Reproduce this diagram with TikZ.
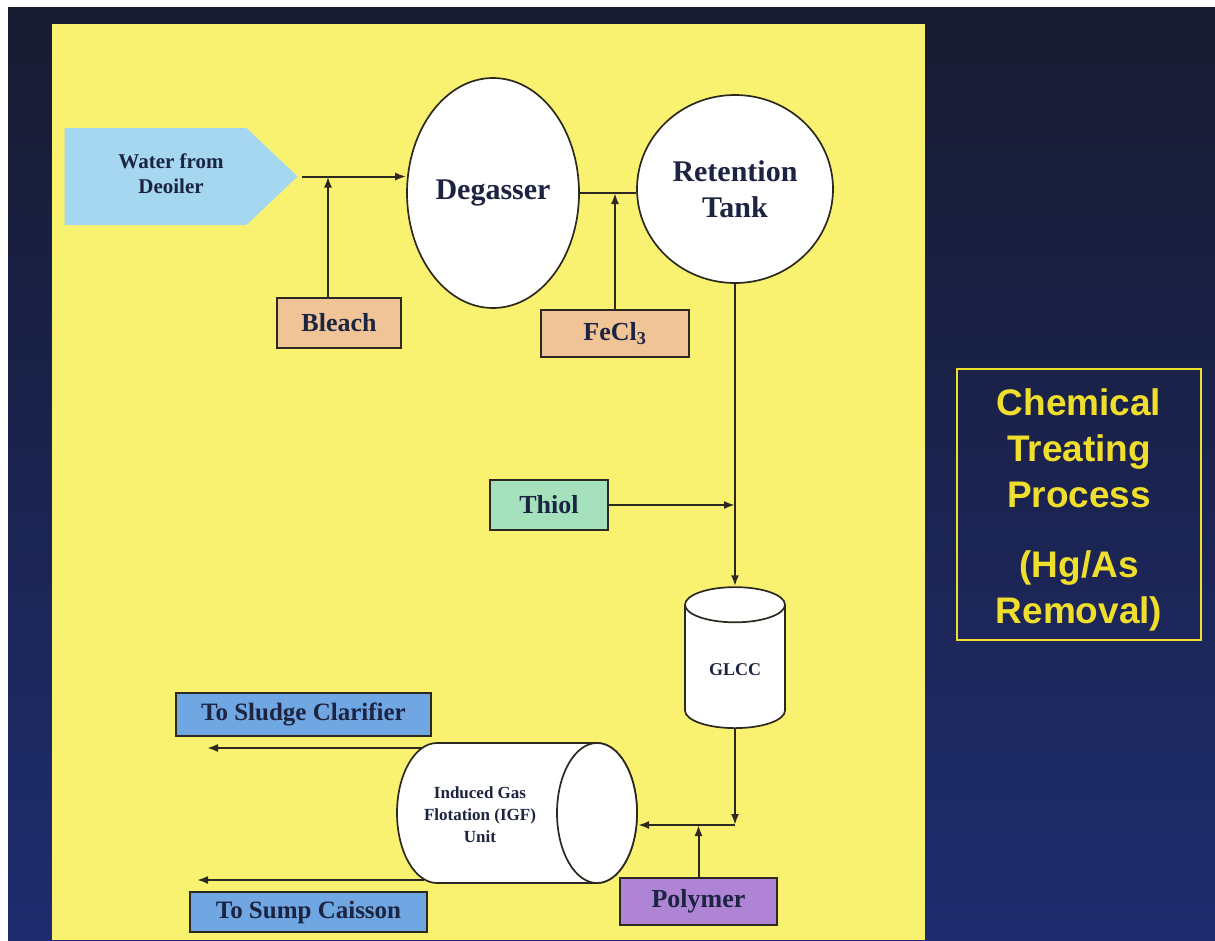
\documentclass[tikz,border=0pt]{standalone}
\usepackage{fontspec}
\setmainfont{Liberation Serif}
\setsansfont{Liberation Sans}
\usetikzlibrary{shapes.geometric,shapes.symbols,arrows.meta}

\definecolor{navytop}{RGB}{24,27,48}
\definecolor{navybot}{RGB}{30,44,110}
\definecolor{paper}{RGB}{249,242,112}
\definecolor{ink}{RGB}{28,36,66}
\definecolor{edge}{RGB}{45,40,32}
\definecolor{water}{RGB}{165,215,240}
\definecolor{peach}{RGB}{240,196,150}
\definecolor{mint}{RGB}{165,225,188}
\definecolor{sky}{RGB}{112,166,225}
\definecolor{lilac}{RGB}{176,132,212}
\definecolor{title}{RGB}{240,222,45}

\begin{document}
\begin{tikzpicture}[x=1pt, y=-1pt,
    lab/.style={text=ink, align=center},
    chem/.style={draw=edge, line width=1.8pt, lab, inner sep=0pt,
        font=\fontsize{26}{30}\selectfont\bfseries},
    vessel/.style={draw=edge, line width=1.7pt, fill=white, lab},
    flow/.style={draw=edge, line width=2pt, -{Latex[length=11pt,width=8pt]}},
    pipe/.style={draw=edge, line width=2pt}]
    \useasboundingbox (0,0) rectangle (1215,940);

    % slide background
    \fill[white] (0,0) rectangle (1215,940);
    \shade[top color=navytop, bottom color=navybot] (8,7) rectangle (1215,940);
    \fill[paper] (52,24) rectangle (925,940);

    \node[signal, signal to=east, signal pointer angle=87, fill=water,
        minimum width=233pt, minimum height=97pt, inner sep=0pt] (water) at (155.5,176.5) {};
    \node[lab, font=\fontsize{21}{25}\selectfont\bfseries] (watertext) at (171,174) {Water from\\Deoiler};

    \node[ellipse, vessel, minimum width=167pt, minimum height=230pt,
        font=\fontsize{30}{34}\selectfont\bfseries] (degasser) at (493,193) {Degasser};
    \node[ellipse, vessel, minimum width=196pt, minimum height=188pt,
        font=\fontsize{30}{36}\selectfont\bfseries] (retention) at (735,189) {Retention\\Tank};

    \node[chem, fill=peach, minimum width=124pt, minimum height=50pt] (bleach) at (339,323) {Bleach};
    \node[chem, fill=peach, minimum width=148pt, minimum height=47pt] (fecl) at (615,333.5) {FeCl\textsubscript{3}};
    \node[chem, fill=mint, minimum width=118pt, minimum height=50pt] (thiol) at (549,505) {Thiol};

    \node[cylinder, shape border rotate=90, aspect=0.6, vessel,
        minimum width=100pt, minimum height=141pt,
        font=\fontsize{18}{20}\selectfont\bfseries] (glcc) at (735,670) {GLCC};

    % IGF drum lying on its side
    \draw[vessel] (597,743) -- (437,743)
        arc[start angle=270, end angle=90, x radius=40, y radius=70]
        -- (597,883) arc[start angle=90, end angle=-90, x radius=40, y radius=70] -- cycle;
    \draw[vessel] (597,813) ellipse[x radius=40, y radius=70];
    \node[lab, font=\fontsize{17}{22}\selectfont\bfseries] (igf) at (480,815) {Induced Gas\\Flotation (IGF)\\Unit};

    \node[chem, fill=sky, minimum width=255pt, minimum height=43pt,
        font=\fontsize{25}{30}\selectfont\bfseries] (sludge) at (303.5,714.5) {To Sludge Clarifier};
    \node[chem, fill=sky, minimum width=237pt, minimum height=40pt,
        font=\fontsize{25}{30}\selectfont\bfseries] (sump) at (308.5,912) {To Sump Caisson};
    \node[chem, fill=lilac, minimum width=157pt, minimum height=47pt] (polymer) at (698.5,901.5) {Polymer};

    \draw[title, line width=2pt] (957,369) rectangle (1201,640);
    \node[text=title, align=center, font=\sffamily\bfseries\fontsize{37}{46}\selectfont] (heading) at (1079,510)
        {Chemical\\Treating\\Process\\[24pt](Hg/As\\Removal)};

    % piping
    \coordinate (mix) at (735,825);
    \coordinate (igfin) at (638,825);
    \coordinate (igftop) at (422,748);
    \coordinate (igfbot) at (424,880);
    \coordinate (sludgeout) at (207,748);
    \coordinate (sumpout) at (197,880);

    \draw[flow] ([xshift=4pt]water.east) -- (water.east -| degasser.west);
    \draw[flow] ([xshift=-11pt]bleach.north) -- ([xshift=-11pt]bleach.north |- water.east);
    \draw[pipe] (degasser.east) -- (degasser.east -| retention.west);
    \draw[flow] (fecl.north) -- (fecl.north |- degasser.east);
    \draw[flow] (retention.south) -- (glcc.top);
    \draw[flow] (thiol.east) -- (thiol.east -| retention.south);
    \draw[flow] (glcc.bottom) -- (mix);
    \draw[flow] (mix) -- (igfin);
    \draw[flow] (polymer.north) -- (polymer.north |- mix);
    \draw[flow] (igftop) -- (sludgeout);
    \draw[flow] (igfbot) -- (sumpout);
\end{tikzpicture}
\end{document}
